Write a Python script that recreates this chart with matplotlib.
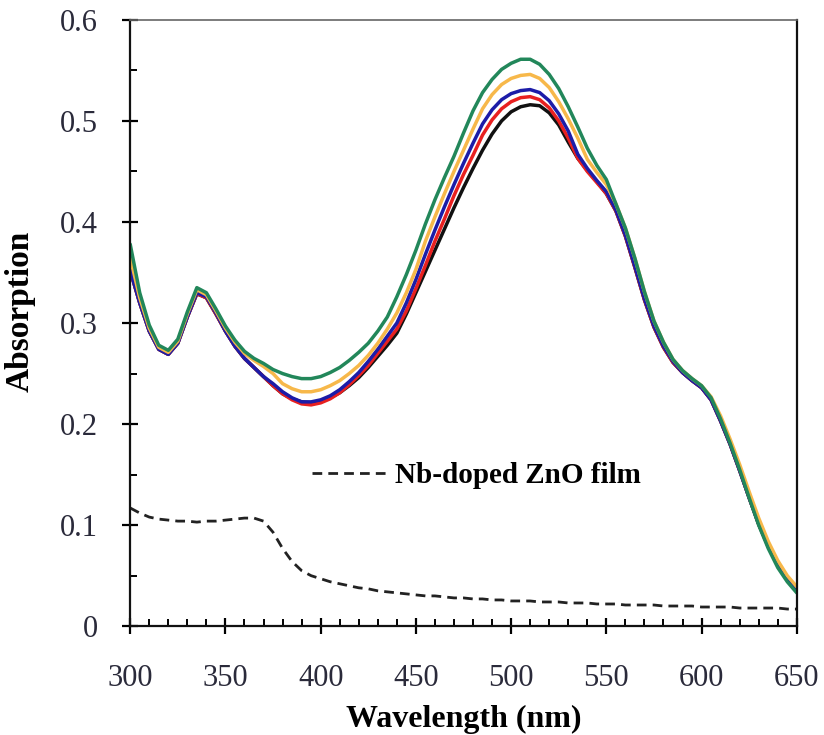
import matplotlib
matplotlib.use('Agg')
import matplotlib.pyplot as plt
from matplotlib.ticker import MultipleLocator, FuncFormatter

plt.rcParams['font.family'] = ['Liberation Serif', 'DejaVu Serif']

# wavelength grid (nm), 5 nm steps
wavelength = list(range(300, 655, 5))

black = [0.352, 0.320, 0.292, 0.274, 0.269, 0.280, 0.306, 0.329, 0.325, 0.309,
         0.292, 0.277, 0.265, 0.256, 0.247, 0.238, 0.230, 0.225, 0.222, 0.221,
         0.222, 0.226, 0.231, 0.238, 0.246, 0.256, 0.267, 0.278, 0.290, 0.309,
         0.330, 0.351, 0.372, 0.393, 0.414, 0.434, 0.453, 0.471, 0.487, 0.500,
         0.509, 0.514, 0.516, 0.515, 0.508, 0.496, 0.479, 0.463, 0.451, 0.440,
         0.428, 0.411, 0.386, 0.355, 0.323, 0.296, 0.276, 0.261, 0.251, 0.243,
         0.236, 0.224, 0.203, 0.180, 0.154, 0.127, 0.101, 0.079, 0.061, 0.047,
         0.036]

red = [0.352, 0.320, 0.292, 0.274, 0.269, 0.280, 0.306, 0.329, 0.325, 0.309,
       0.292, 0.277, 0.265, 0.256, 0.247, 0.238, 0.230, 0.224, 0.220, 0.219,
       0.221, 0.225, 0.231, 0.239, 0.248, 0.258, 0.270, 0.282, 0.294, 0.312,
       0.334, 0.357, 0.381, 0.403, 0.426, 0.447, 0.466, 0.486, 0.501, 0.512,
       0.519, 0.523, 0.524, 0.521, 0.513, 0.500, 0.483, 0.463, 0.450, 0.439,
       0.428, 0.411, 0.386, 0.355, 0.323, 0.296, 0.276, 0.261, 0.251, 0.243,
       0.236, 0.224, 0.203, 0.180, 0.154, 0.127, 0.101, 0.079, 0.061, 0.047,
       0.036]

blue = [0.352, 0.320, 0.292, 0.274, 0.269, 0.280, 0.306, 0.330, 0.326, 0.310,
        0.292, 0.277, 0.265, 0.256, 0.247, 0.240, 0.232, 0.226, 0.222, 0.222,
        0.224, 0.228, 0.234, 0.242, 0.251, 0.262, 0.274, 0.287, 0.300, 0.320,
        0.343, 0.368, 0.392, 0.415, 0.437, 0.458, 0.478, 0.497, 0.511, 0.521,
        0.527, 0.530, 0.531, 0.528, 0.520, 0.507, 0.490, 0.467, 0.453, 0.441,
        0.430, 0.412, 0.387, 0.356, 0.324, 0.297, 0.277, 0.262, 0.251, 0.243,
        0.236, 0.224, 0.203, 0.180, 0.154, 0.127, 0.101, 0.079, 0.061, 0.047,
        0.036]

orange = [0.365, 0.325, 0.295, 0.276, 0.271, 0.282, 0.309, 0.333, 0.328, 0.312,
          0.295, 0.281, 0.270, 0.263, 0.257, 0.250, 0.240, 0.235, 0.232, 0.232,
          0.234, 0.238, 0.243, 0.250, 0.258, 0.268, 0.280, 0.294, 0.310, 0.330,
          0.353, 0.381, 0.405, 0.428, 0.450, 0.471, 0.492, 0.512, 0.526, 0.536,
          0.542, 0.545, 0.546, 0.542, 0.533, 0.519, 0.502, 0.483, 0.462, 0.449,
          0.437, 0.418, 0.394, 0.364, 0.331, 0.302, 0.281, 0.264, 0.253, 0.245,
          0.238, 0.227, 0.208, 0.185, 0.160, 0.133, 0.107, 0.084, 0.065, 0.050,
          0.039]

green = [0.378, 0.330, 0.298, 0.278, 0.273, 0.284, 0.311, 0.335, 0.330, 0.314,
         0.297, 0.283, 0.272, 0.265, 0.260, 0.254, 0.250, 0.247, 0.245, 0.245,
         0.247, 0.251, 0.256, 0.263, 0.271, 0.280, 0.292, 0.306, 0.326, 0.348,
         0.372, 0.398, 0.422, 0.444, 0.465, 0.488, 0.510, 0.528, 0.541, 0.551,
         0.557, 0.561, 0.561, 0.556, 0.546, 0.532, 0.514, 0.494, 0.473, 0.456,
         0.442, 0.418, 0.394, 0.364, 0.331, 0.302, 0.281, 0.264, 0.253, 0.245,
         0.238, 0.226, 0.205, 0.181, 0.155, 0.127, 0.100, 0.077, 0.058, 0.044,
         0.033]

film = [0.117, 0.112, 0.108, 0.106, 0.105, 0.104, 0.104, 0.103, 0.104, 0.104,
        0.105, 0.106, 0.107, 0.107, 0.104, 0.093, 0.077, 0.064, 0.055, 0.050,
        0.047, 0.044, 0.042, 0.040, 0.038, 0.037, 0.035, 0.034, 0.033, 0.032,
        0.031, 0.030, 0.030, 0.029, 0.028, 0.028, 0.027, 0.027, 0.026, 0.026,
        0.025, 0.025, 0.025, 0.024, 0.024, 0.024, 0.023, 0.023, 0.023, 0.022,
        0.022, 0.022, 0.021, 0.021, 0.021, 0.021, 0.020, 0.020, 0.020, 0.020,
        0.019, 0.019, 0.019, 0.019, 0.018, 0.018, 0.018, 0.018, 0.018, 0.017,
        0.017]

series = [(black, '#111111'), (red, '#e82020'), (blue, '#1c1ca8'),
          (orange, '#f7b84a'), (green, '#22875a')]

fig = plt.figure(figsize=(8.24, 7.35), dpi=100)
ax = fig.add_axes([0.158, 0.148, 0.809, 0.825])

for vals, col in series:
    ax.plot(wavelength, vals, color=col, lw=2.5, solid_joinstyle='round',
            solid_capstyle='round')

film_line, = ax.plot(wavelength, film, color='#222222', lw=2.0,
                     linestyle=(0, (3.5, 2.2)))

ax.set_xlim(300, 650)
ax.set_ylim(0, 0.6)

ax.xaxis.set_major_locator(MultipleLocator(50))
ax.xaxis.set_minor_locator(MultipleLocator(10))
ax.yaxis.set_major_locator(MultipleLocator(0.1))
ax.yaxis.set_minor_locator(MultipleLocator(0.05))
ax.yaxis.set_major_formatter(FuncFormatter(lambda v, p: '0' if abs(v) < 1e-9 else f'{v:.1f}'))

ax.tick_params(axis='both', which='major', direction='inout', length=12, width=1.6,
               labelsize=22, labelcolor='#2a2a3a')
ax.tick_params(axis='x', which='major', pad=21)
ax.tick_params(axis='y', which='major', pad=17)
ax.tick_params(axis='both', which='minor', direction='in', length=5, width=1.4)
ax.tick_params(top=False, right=False, which='both')

for s in ax.spines.values():
    s.set_linewidth(1.6)
    s.set_color('#111111')
ax.spines['top'].set_color('#666666')
ax.spines['top'].set_linewidth(1.2)

ax.set_xlabel('Wavelength (nm)', fontsize=23, fontweight='bold', labelpad=9)
ax.set_ylabel('Absorption', fontsize=24, fontweight='bold')
ax.yaxis.set_label_coords(-0.142, 0.52)

leg = ax.legend([film_line], ['Nb-doped ZnO film'], loc='center left',
                bbox_to_anchor=(0.273, 0.249), frameon=False, borderpad=0,
                borderaxespad=0, handlelength=2.6, handletextpad=0.25,
                prop={'weight': 'bold', 'size': 21})

fig.savefig('out.png', dpi=100)
